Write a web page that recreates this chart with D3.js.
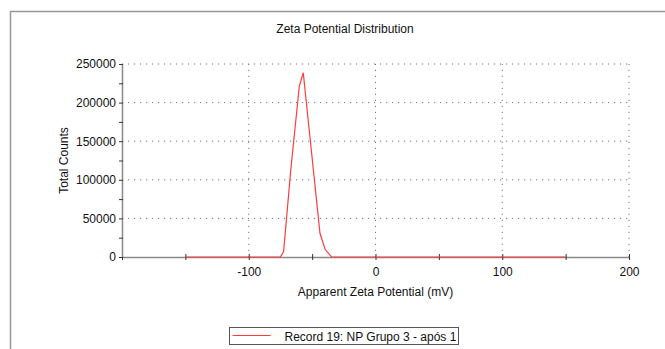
<!DOCTYPE html>
<html>
<head>
  <meta charset="utf-8">
  <title>Zeta Potential Distribution</title>
  <script src="https://d3js.org/d3.v7.min.js"></script>
  <style>
    body { margin: 0; background: #fff; }
    svg { display: block; font-family: "Liberation Sans", Arial, sans-serif; }
    .axis text { font-size: 12px; fill: #111; font-family: "Liberation Sans", Arial, sans-serif; }
    .axis path { stroke: #888; stroke-width: 1.5; }
    .axis line { stroke: #333; }
    .grid line { stroke: #777; stroke-width: 1; stroke-dasharray: 1.2,4.8; }
  </style>
</head>
<body>
  <script>
    // data
    var potential = [-150, -75, -72.5, -66.7, -60.1, -57, -43.8, -39.8, -34.6, 150];
    var counts    = [0, 0, 7000, 115300, 221500, 238700, 30700, 10000, 0, 0];
    var xTicks = [-200, -150, -100, -50, 0, 50, 100, 150, 200];
    var xLabels = [-100, 0, 100, 200];
    var yTicks = [0, 25000, 50000, 75000, 100000, 125000, 150000, 175000, 200000, 225000, 250000];
    var yLabels = [0, 50000, 100000, 150000, 200000, 250000];
    var seriesName = "Record 19: NP Grupo 3 - após 1";

    var W = 665, H = 349;
    var svg = d3.select("body").append("svg")
        .attr("width", W)
        .attr("height", H);

    // outer frame (top and left edges visible)
    svg.append("path")
        .attr("d", "M10.5," + H + "V11.5H" + W)
        .attr("fill", "none")
        .attr("stroke", "#999")
        .attr("stroke-width", 1.5);

    var x = d3.scaleLinear().domain([-200, 200]).range([122, 629]);
    var y = d3.scaleLinear().domain([0, 250000]).range([257, 64]);

    // dotted grid
    var grid = svg.append("g").attr("class", "grid");
    grid.selectAll("line.h")
        .data(yLabels.filter(d => d > 0))
        .enter().append("line")
          .attr("class", "h")
          .attr("x1", x(-200)).attr("x2", x(200))
          .attr("y1", d => y(d)).attr("y2", d => y(d));
    grid.selectAll("line.v")
        .data(xLabels)
        .enter().append("line")
          .attr("class", "v")
          .attr("y1", y(0)).attr("y2", y(250000))
          .attr("x1", d => x(d)).attr("x2", d => x(d));

    // axes
    var xAxis = d3.axisBottom(x)
        .tickValues(xTicks)
        .tickSizeInner(2)
        .tickSizeOuter(0)
        .tickPadding(8)
        .tickFormat(d => xLabels.indexOf(d) >= 0 ? d : "");
    var gx = svg.append("g")
        .attr("class", "axis")
        .attr("transform", "translate(0," + y(0) + ")")
        .call(xAxis);
    gx.selectAll(".tick line").attr("y1", -3).attr("y2", 3);

    var yAxis = d3.axisLeft(y)
        .tickValues(yTicks)
        .tickSizeInner(3)
        .tickSizeOuter(0)
        .tickPadding(3)
        .tickFormat(d => yLabels.indexOf(d) >= 0 ? d : "");
    var gy = svg.append("g")
        .attr("class", "axis")
        .attr("transform", "translate(" + x(-200) + ",0)")
        .call(yAxis);
    gy.selectAll(".tick line").attr("x1", -3).attr("x2", 1);

    // series line
    var pts = potential.map((p, i) => [p, counts[i]]);
    svg.append("path")
        .datum(pts)
        .attr("fill", "none")
        .attr("stroke", "#ff3b3b")
        .attr("stroke-width", 1.2)
        .attr("d", d3.line().x(d => x(d[0])).y(d => y(d[1])));

    // titles
    svg.append("text")
        .attr("x", 345).attr("y", 33)
        .attr("text-anchor", "middle")
        .attr("font-size", 12)
        .attr("fill", "#111")
        .text("Zeta Potential Distribution");
    svg.append("text")
        .attr("x", 375.5).attr("y", 296)
        .attr("text-anchor", "middle")
        .attr("font-size", 12)
        .attr("fill", "#111")
        .text("Apparent Zeta Potential (mV)");
    svg.append("text")
        .attr("transform", "translate(68,160.5) rotate(-90)")
        .attr("text-anchor", "middle")
        .attr("font-size", 12)
        .attr("fill", "#111")
        .text("Total Counts");

    // legend
    var lg = svg.append("g").attr("transform", "translate(229.5,327.5)");
    lg.append("rect")
        .attr("width", 229).attr("height", 17)
        .attr("fill", "#fff")
        .attr("stroke", "#555");
    lg.append("line")
        .attr("x1", 3).attr("x2", 41)
        .attr("y1", 8).attr("y2", 8)
        .attr("stroke", "#ff3b3b")
        .attr("stroke-width", 1);
    lg.append("text")
        .attr("x", 55).attr("y", 13)
        .attr("font-size", 12)
        .attr("fill", "#111")
        .text(seriesName);
  </script>
</body>
</html>
